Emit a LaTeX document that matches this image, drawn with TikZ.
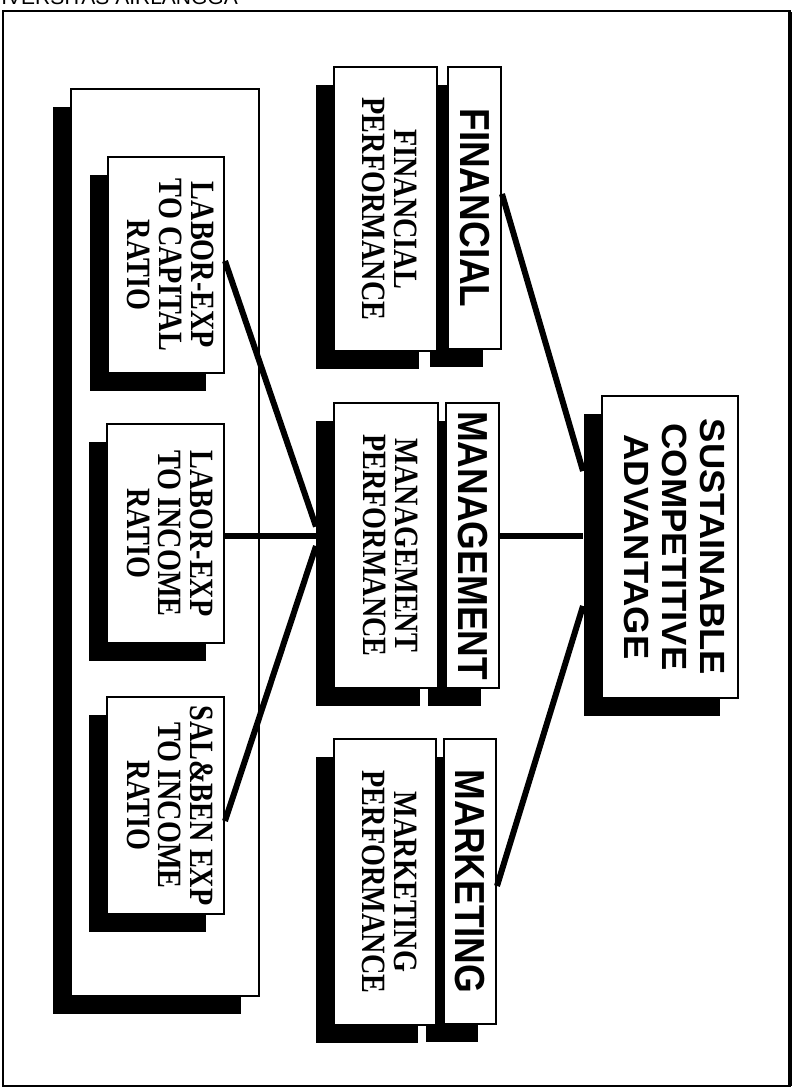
\documentclass[tikz,border=0pt]{standalone}
\usepackage{fontspec}
\setmainfont{Liberation Serif}
\setsansfont{Liberation Sans}
\usetikzlibrary{shadows,calc}

% rotated box labels (read top to bottom)
\newcommand\boxtext[1]{\rotatebox{-90}{\scalebox{0.83}[1]{\fontsize{34}{31}\selectfont\bfseries\begin{tabular}{@{}c@{}}#1\end{tabular}}}}
\newcommand\headtext[1]{\rotatebox{-90}{\scalebox{0.88}[1]{\fontsize{42}{42}\selectfont\sffamily\bfseries #1}}}
\newcommand\goaltext[1]{\rotatebox{-90}{\scalebox{1.04}[1]{\fontsize{35}{38}\selectfont\sffamily\bfseries\begin{tabular}{@{}c@{}}#1\end{tabular}}}}

\tikzset{
  shadowed/.style={draw, fill=white, inner sep=0pt, anchor=north west,
    drop shadow={shadow xshift=-18pt, shadow yshift=-18pt, fill=black, opacity=1}},
  box/.style={shadowed, line width=2pt},
  group/.style={shadowed, line width=1.5pt},
  link/.style={line width=6pt},
  frame/.style={line width=2.5pt},
}

\begin{document}
\begin{tikzpicture}[x=1pt, y=-1pt]
\useasboundingbox (0,0) rectangle (797,1088);

% page header, cut by the page edge
\begin{scope}
  \clip (0,0) rectangle (797,1088);
  \node[anchor=base east, inner sep=0pt, font=\sffamily\fontsize{21}{21}\selectfont] (hdr) at (238,4) {UNIVERSITAS AIRLANGGA};
\end{scope}

% outer frame
\draw[frame] (3,11) rectangle (790,1086);
\draw[line width=4pt] (790,12) -- (790,1086);

% left group of ratios
\node[group, minimum width=188pt, minimum height=907pt] (grp) at (70,88) {};
\node[box, minimum width=116pt, minimum height=216pt] (cap) at (107,156) {\boxtext{LABOR-EXP\\TO CAPITAL\\RATIO}};
\node[box, minimum width=117pt, minimum height=219pt] (inc) at (106,423) {\boxtext{LABOR-EXP\\TO INCOME\\RATIO}};
\node[box, minimum width=117pt, minimum height=217pt] (sal) at (106,696) {\boxtext{SAL\&BEN EXP\\TO INCOME\\RATIO}};

% performance areas
\node[box, minimum width=53pt, minimum height=282pt] (fin) at (447,66) {\headtext{FINANCIAL}};
\node[box, minimum width=103pt, minimum height=284pt] (fp) at (333,66) {\boxtext{FINANCIAL\\PERFORMANCE}};
\node[box, minimum width=53pt, minimum height=285pt] (man) at (445,402) {\headtext{MANAGEMENT}};
\node[box, minimum width=104pt, minimum height=285pt] (mp) at (333,402) {\boxtext{MANAGEMENT\\PERFORMANCE}};
\node[box, minimum width=52pt, minimum height=285pt] (mkt) at (443,738) {\headtext{MARKETING}};
\node[box, minimum width=102pt, minimum height=286pt] (mkp) at (333,738) {\boxtext{MARKETING\\PERFORMANCE}};

% goal
\node[box, minimum width=136pt, minimum height=302pt] (sca) at (601,395) {\goaltext{SUSTAINABLE\\COMPETITIVE\\ADVANTAGE}};

% connectors
\draw[link] ($(cap.east)+(0,-4)$) -- ($(mp.west)+(-17,-19)$);
\draw[link] ($(inc.east)+(0,2.5)$) -- ($(mp.west)+(-17,-9.5)$);
\draw[link] ($(sal.east)+(0,15.5)$) -- ($(mp.west)+(-17,0.5)$);
\draw[link] ($(fin.east)+(0,-14)$) -- ($(sca.west)+(-18,-76)$);
\draw[link] ($(man.east)+(0,-9.5)$) -- ($(sca.west)+(-18,-11)$);
\draw[link] ($(mkt.east)+(0,4.5)$) -- ($(sca.west)+(-18,59)$);
\end{tikzpicture}
\end{document}
